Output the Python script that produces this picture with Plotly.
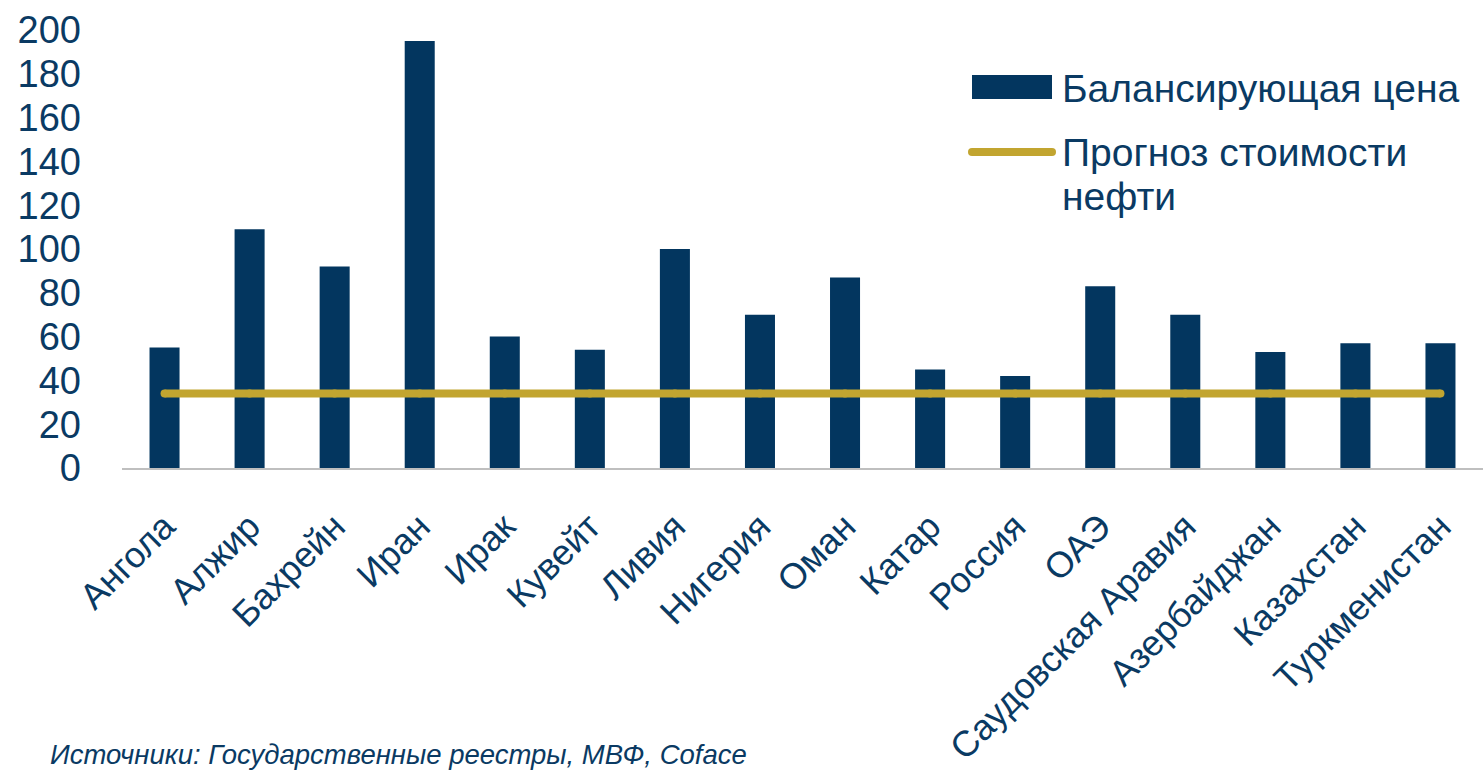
import plotly.graph_objects as go

countries = ["Ангола", "Алжир", "Бахрейн", "Иран", "Ирак", "Кувейт", "Ливия", "Нигерия",
             "Оман", "Катар", "Россия", "ОАЭ", "Саудовская Аравия", "Азербайджан",
             "Казахстан", "Туркменистан"]
breakeven_price = [55, 109, 92, 195, 60, 54, 100, 70, 87, 45, 42, 83, 70, 53, 57, 57]
oil_forecast = [34, 34, 34, 34, 34, 34, 34, 34, 34, 34, 34, 34, 34, 34, 34, 34]
y_ticks = [0, 20, 40, 60, 80, 100, 120, 140, 160, 180, 200]

NAVY = "#03365F"
GOLD = "#C2A530"
TXT = "#0A3A63"
FONT = "Liberation Sans, Arial, sans-serif"

W, H = 1483, 774
L, R, T, B = 122, 0, 30, 306
PW, PH = W - L - R, H - T - B


def px(x):
    return (x - L) / PW


def py(y):
    return (H - B - y) / PH


fig = go.Figure()
fig.add_trace(go.Bar(x=countries, y=breakeven_price, marker=dict(color=NAVY, line=dict(width=0)),
                     name="Балансирующая цена", showlegend=False))
fig.add_trace(go.Scatter(x=countries, y=oil_forecast, mode="lines+markers",
                         line=dict(color=GOLD, width=8), marker=dict(color=GOLD, size=8),
                         name="Прогноз стоимости нефти", showlegend=False))

shapes = [
    dict(type="rect", xref="paper", yref="paper", x0=px(972), x1=px(1052), y0=py(99), y1=py(75),
         fillcolor=NAVY, line=dict(width=0)),
    dict(type="line", xref="paper", yref="paper", x0=px(972), x1=px(1052), y0=py(152), y1=py(152),
         line=dict(color=GOLD, width=8)),
    dict(type="circle", xref="paper", yref="paper", x0=px(968), x1=px(976), y0=py(156), y1=py(148),
         fillcolor=GOLD, line=dict(width=0)),
    dict(type="circle", xref="paper", yref="paper", x0=px(1048), x1=px(1056), y0=py(156), y1=py(148),
         fillcolor=GOLD, line=dict(width=0)),
]

LEG_FONT = dict(size=39, color=TXT, family=FONT)
annotations = [
    dict(text="Балансирующая цена", xref="paper", yref="paper", x=px(1060), y=py(88),
         xanchor="left", yanchor="middle", showarrow=False, font=LEG_FONT),
    dict(text="Прогноз стоимости", xref="paper", yref="paper", x=px(1060), y=py(152),
         xanchor="left", yanchor="middle", showarrow=False, font=LEG_FONT),
    dict(text="нефти", xref="paper", yref="paper", x=px(1060), y=py(196),
         xanchor="left", yanchor="middle", showarrow=False, font=LEG_FONT),
    dict(text="<i>Источники: Государственные реестры, МВФ, Coface</i>", xref="paper", yref="paper",
         x=px(48), y=py(754), xanchor="left", yanchor="middle", showarrow=False,
         font=dict(size=27.5, color=TXT, family=FONT)),
]

fig.update_layout(
    width=W, height=H,
    margin=dict(l=L, r=R, t=T, b=B, autoexpand=False),
    paper_bgcolor="white", plot_bgcolor="white",
    bargap=0.647,
    showlegend=False,
    shapes=shapes,
    annotations=annotations,
    font=dict(family=FONT, color=TXT),
    xaxis=dict(showgrid=False, tickangle=-45, tickfont=dict(size=36, color=TXT, family=FONT),
               range=[-0.5, len(countries) - 0.5],
               showline=True, linecolor="#BFBFBF", linewidth=2, ticks="", ticklabelstandoff=21,
               zeroline=False, automargin=False),
    yaxis=dict(range=[0, 200], tickvals=y_ticks, showgrid=False, zeroline=False, showline=False,
               tickfont=dict(size=38, color=TXT, family=FONT), ticklabelstandoff=40, ticks="",
               automargin=False),
)

fig.write_html("out.html", config={"displayModeBar": False},
               post_script="document.body.style.margin='0';document.body.style.overflow='hidden';")
